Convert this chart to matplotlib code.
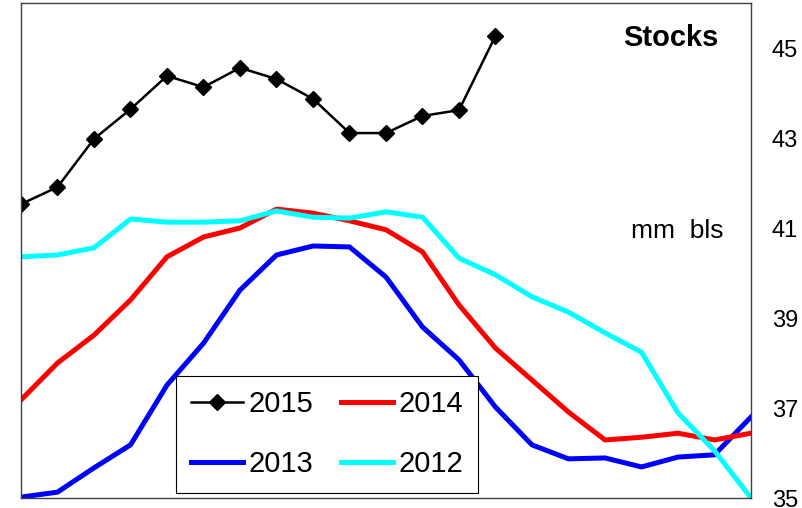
import matplotlib
matplotlib.use("Agg")
import matplotlib.pyplot as plt
import numpy as np

plt.rcParams['font.family'] = ['Liberation Sans', 'DejaVu Sans']

weeks = list(range(21))
s2015 = [41.53, 41.91, 42.98, 43.64, 44.38, 44.13, 44.56, 44.31, 43.87, 43.11,
         43.11, 43.49, 43.62, 45.27]
s2014 = [37.18, 38.0, 38.62, 39.4, 40.36, 40.8, 41.0, 41.42, 41.33, 41.16,
         40.96, 40.47, 39.29, 38.33, 37.62, 36.91, 36.29, 36.35, 36.44, 36.29, 36.44]
s2013 = [35.02, 35.13, 35.67, 36.18, 37.51, 38.44, 39.62, 40.4, 40.6, 40.58,
         39.91, 38.8, 38.07, 37.02, 36.18, 35.87, 35.89, 35.69, 35.91, 35.96, 36.8]
s2012 = [40.36, 40.4, 40.56, 41.2, 41.13, 41.13, 41.16, 41.38, 41.24, 41.22,
         41.36, 41.24, 40.33, 39.96, 39.47, 39.13, 38.67, 38.24, 36.89, 36.05, 35.0]
yticks = [35, 37, 39, 41, 43, 45]

fig = plt.figure(figsize=(8.03, 5.08), dpi=100)
ax = fig.add_axes([21/803, 1-498/508, (751-21)/803, 495/508])

l13, = ax.plot(weeks, s2013, color='#0000ff', lw=3.6, label='2013')
l14, = ax.plot(weeks, s2014, color='#ff0000', lw=3.6, label='2014')
l12, = ax.plot(weeks, s2012, color='#00ffff', lw=3.6, label='2012')
l15, = ax.plot(weeks[:len(s2015)], s2015, color='black', lw=1.8, marker='D',
               markersize=8.5, label='2015')

ax.set_xlim(0, 20)
ax.set_ylim(35, 46)
ax.set_xticks([])
ax.set_yticks(yticks)
ax.yaxis.tick_right()
ax.tick_params(axis='y', length=0, pad=15, labelsize=17)
for sp in ax.spines.values():
    sp.set_color('#404040')
    sp.set_linewidth(1.0)

ax.text(0.955, 0.93, 'Stocks', transform=ax.transAxes, ha='right', va='center',
        fontsize=21, fontweight='bold')
ax.text(0.962, 0.54, 'mm  bls', transform=ax.transAxes, ha='right', va='center',
        fontsize=19)

leg = ax.legend(handles=[l15, l13, l14, l12], ncol=2, loc='lower left',
                bbox_to_anchor=(176/803, 1-493/508), bbox_transform=fig.transFigure,
                fontsize=21, frameon=True, fancybox=False, framealpha=1,
                edgecolor='black', handlelength=1.8, handletextpad=0.18,
                columnspacing=0.95, labelspacing=1.1, borderpad=0.5,
                borderaxespad=0)
leg.get_frame().set_linewidth(0.8)

fig.savefig('out.png', dpi=100)
